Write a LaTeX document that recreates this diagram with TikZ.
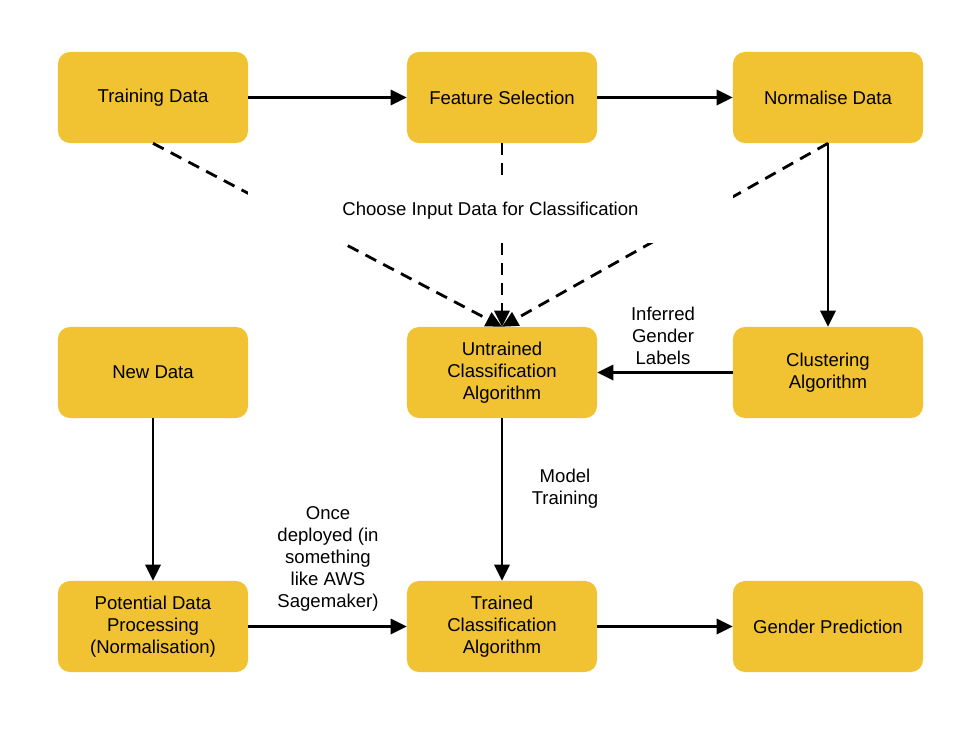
\documentclass[tikz,border=0pt]{standalone}
\usepackage{fontspec}
\setmainfont{Liberation Sans}
\usetikzlibrary{arrows.meta}
\definecolor{boxyellow}{HTML}{F1C232}
\tikzset{
  block/.style={fill=boxyellow, rounded corners=0.3cm, minimum width=4.75cm,
    minimum height=2.275cm, align=center, inner sep=0pt,
    font=\fontsize{13.2}{15.6}\selectfont},
  flow/.style={-{Triangle[length=0.4cm,width=0.38cm]}, line width=2pt},
  guess/.style={flow, dash pattern=on 0.3cm off 0.2cm},
  note/.style={align=center, inner sep=0pt, font=\fontsize{13.2}{15.6}\selectfont}
}

\begin{document}
\begin{tikzpicture}[x=0.025cm, y=-0.025cm]
  \useasboundingbox (0,0) rectangle (976,733);

  % top row
  \node[block] (td) at (153,97.5) {Training Data};
  \node[block] (fs) at (502,97.5) {Feature Selection};
  \node[block] (nd) at (828,97.5) {Normalise Data};

  % middle row
  \node[block] (new) at (153,372.5) {New Data};
  \node[block] (ut) at (502,372.5) {Untrained\\Classification\\Algorithm};
  \node[block] (cl) at (828,372.5) {Clustering\\Algorithm};

  % bottom row
  \node[block] (pp) at (153,626.5) {Potential Data\\Processing\\(Normalisation)};
  \node[block] (tc) at (502,626.5) {Trained\\Classification\\Algorithm};
  \node[block] (gp) at (828,626.5) {Gender Prediction};

  \draw[flow] (td) -- (fs);
  \draw[flow] (fs) -- (nd);
  \draw[flow] (nd) -- (cl);
  \draw[flow] (cl) -- (ut);
  \draw[flow] (ut) -- (tc);
  \draw[flow] (new) -- (pp);
  \draw[flow] (pp) -- (tc);
  \draw[flow] (tc) -- (gp);

  \foreach \src in {td,fs,nd}
    \draw[guess] (\src.south) -- (ut.north);

  \node[note, fill=white, minimum width=12.125cm, minimum height=1.625cm]
    (choose) at (490.5,210.5) {Choose Input Data for Classification};

  \node[note] (inferred) at (663,336) {Inferred\\Gender\\Labels};
  \node[note] (training) at (565,489) {Model\\Training};
  \node[note] (deployed) at (328,559) {Once\\deployed (in\\something\\like AWS\\Sagemaker)};
\end{tikzpicture}
\end{document}
